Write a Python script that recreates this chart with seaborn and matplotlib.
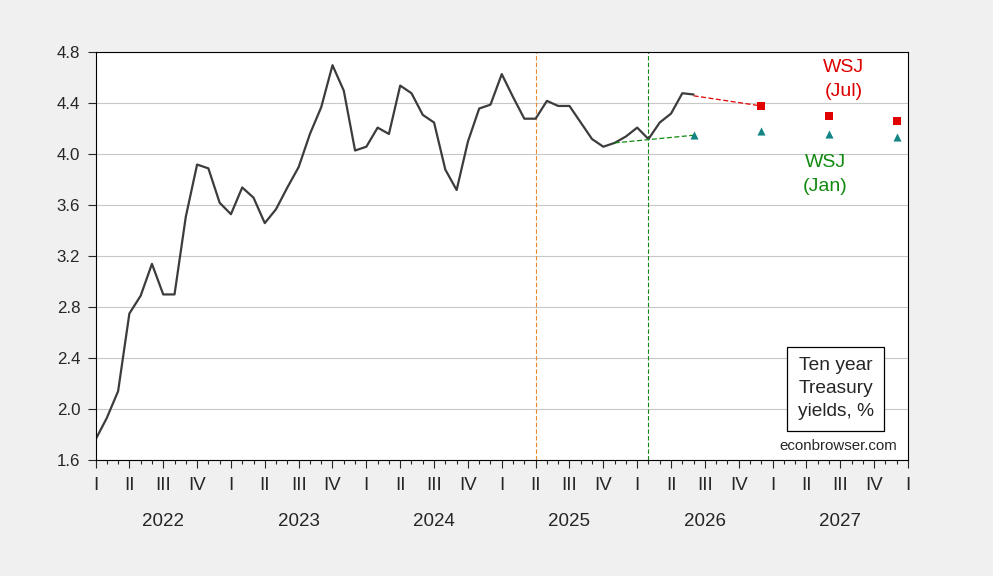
import numpy as np
import pandas as pd
import matplotlib
matplotlib.use("Agg")
import matplotlib.pyplot as plt
import matplotlib.transforms as mtransforms
import seaborn as sns

# ten year yields, monthly, Jan 2022 - Jun 2026
start_month = "2022-01"
yields = [
    1.76, 1.93, 2.14, 2.75, 2.89, 3.14, 2.90, 2.90, 3.51, 3.92, 3.89, 3.62,
    3.53, 3.74, 3.66, 3.46, 3.57, 3.74, 3.90, 4.16, 4.37, 4.70, 4.50, 4.03,
    4.06, 4.21, 4.16, 4.54, 4.48, 4.31, 4.25, 3.88, 3.72, 4.10, 4.36, 4.39,
    4.63, 4.45, 4.28, 4.28, 4.42, 4.38, 4.38, 4.25, 4.12, 4.06, 4.09, 4.14,
    4.21, 4.12, 4.25, 4.32, 4.48, 4.47,
]

# WSJ survey forecasts
jul_months = ["2026-12", "2027-06", "2027-12"]
jul_vals = [4.38, 4.30, 4.26]
jul_link_months = ["2026-06", "2026-12"]
jul_link_vals = [4.46, 4.38]

jan_months = ["2026-06", "2026-12", "2027-06", "2027-12"]
jan_vals = [4.15, 4.18, 4.16, 4.14]
jan_link_months = ["2025-11", "2026-06"]
jan_link_vals = [4.09, 4.15]

vline_months = ["2025-04", "2026-02"]
vline_colors = ["#E8892A", "#108A10"]

years = [2022, 2023, 2024, 2025, 2026, 2027]
quarter_labels = ["I", "II", "III", "IV"]


def month_idx(s):
    p = pd.Period(s, freq="M")
    return (p.year - 2022) * 12 + p.month - 1


actual = pd.DataFrame({"m": np.arange(len(yields)), "y": yields})
jul = pd.DataFrame({"m": [month_idx(s) for s in jul_months], "y": jul_vals})
jan = pd.DataFrame({"m": [month_idx(s) for s in jan_months], "y": jan_vals})

sns.set_style("white")
plt.rcParams["font.family"] = ["Liberation Sans", "DejaVu Sans"]

fig = plt.figure(figsize=(9.93, 5.76), dpi=100, facecolor="#F0F0F0")
ax = fig.add_axes([0.0962, 0.2014, 0.8182, 0.7075])
ax.set_facecolor("white")

ax.set_xlim(0, 72)
ax.set_ylim(1.6, 4.8)
ax.set_yticks(np.arange(1.6, 4.81, 0.4))
ax.set_yticklabels([f"{v:.1f}" for v in np.arange(1.6, 4.81, 0.4)], fontsize=12.2)
ax.yaxis.grid(True, color="#C8C8C8", linewidth=0.8)
ax.set_axisbelow(True)

for m, c in zip(vline_months, vline_colors):
    ax.axvline(month_idx(m), color=c, linestyle=(0, (4, 2)), linewidth=0.8)

sns.lineplot(data=actual, x="m", y="y", ax=ax, color="#3C3C3C", linewidth=1.6)

ax.plot([month_idx(s) for s in jul_link_months], jul_link_vals,
        color="#E00000", linestyle=(0, (4, 2)), linewidth=0.9)
ax.plot([month_idx(s) for s in jan_link_months], jan_link_vals,
        color="#108A10", linestyle=(0, (4, 2)), linewidth=0.9)

sns.scatterplot(data=jul, x="m", y="y", ax=ax, marker="s", color="#E00000",
                s=30, linewidth=0, zorder=5)
sns.scatterplot(data=jan, x="m", y="y", ax=ax, marker="^", color="#138585",
                s=34, linewidth=0, zorder=5)

# x axis: quarters as roman numerals, months as minor ticks
ax.set_xticks(np.arange(0, 73, 3))
ax.set_xticklabels([quarter_labels[(q // 3) % 4] for q in range(0, 73, 3)], fontsize=13.5)
ax.set_xticks(np.arange(0, 73, 1), minor=True)
ax.tick_params(axis="x", which="major", direction="out", length=6, width=0.8,
               pad=6.5, bottom=True)
ax.tick_params(axis="x", which="minor", direction="out", length=3, width=0.8,
               bottom=True)
ax.tick_params(axis="y", direction="out", length=6, width=0.8, pad=5, left=True)
ax.set_xlabel("")
ax.set_ylabel("")

trans = mtransforms.blended_transform_factory(ax.transData, ax.transAxes)
for i, yr in enumerate(years):
    ax.text(i * 12 + 6, -0.152, str(yr), transform=trans, ha="center",
            va="center", fontsize=13.5)

for sp in ax.spines.values():
    sp.set_visible(True)
    sp.set_color("black")
    sp.set_linewidth(0.8)

ax.text(66.3, 4.59, "WSJ\n(Jul)", color="#DD0000", ha="center", va="center",
        fontsize=14, linespacing=1.55)
ax.text(64.7, 3.84, "WSJ\n(Jan)", color="#108A10", ha="center", va="center",
        fontsize=14, linespacing=1.55)
ax.text(65.6, 2.16, "Ten year\nTreasury\nyields, %", ha="center", va="center",
        fontsize=13.8, linespacing=1.45,
        bbox=dict(boxstyle="square,pad=0.55", facecolor="white",
                  edgecolor="black", linewidth=0.9))
ax.text(65.8, 1.71, "econbrowser.com", ha="center", va="center", fontsize=10.8)

fig.savefig("out.png", dpi=100, facecolor=fig.get_facecolor())
